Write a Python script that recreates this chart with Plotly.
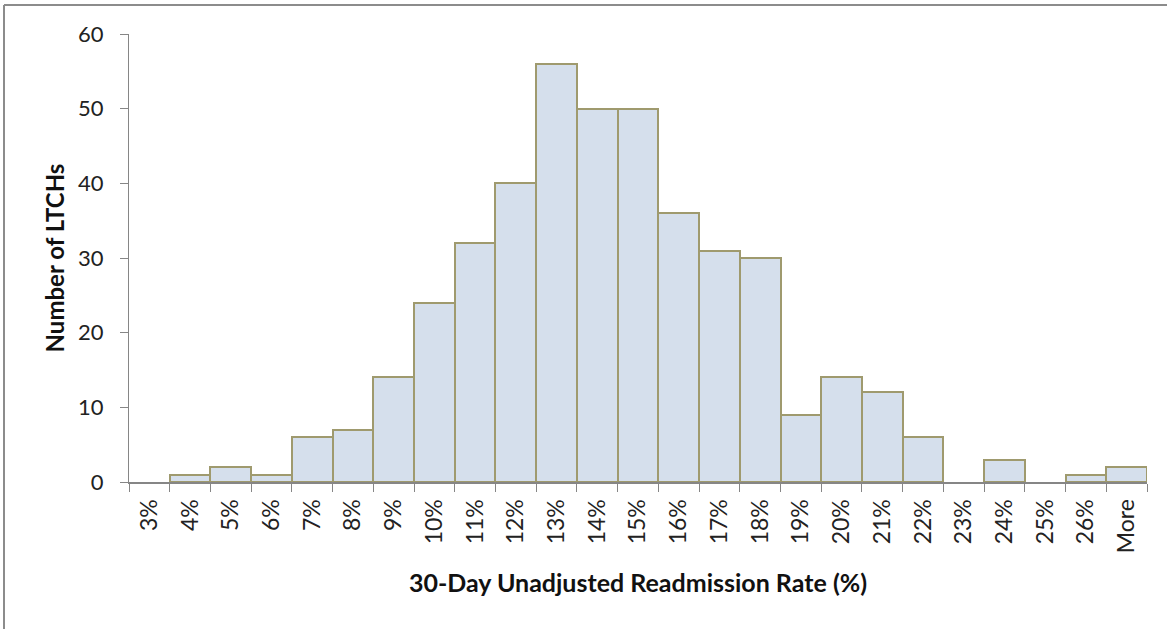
import plotly.graph_objects as go

categories = ["3%", "4%", "5%", "6%", "7%", "8%", "9%", "10%", "11%", "12%", "13%",
              "14%", "15%", "16%", "17%", "18%", "19%", "20%", "21%", "22%", "23%",
              "24%", "25%", "26%", "More"]
counts = [0, 1, 2, 1, 6, 7, 14, 24, 32, 40, 56, 50, 50, 36, 31, 30, 9, 14, 12, 6, 0,
          3, 0, 1, 2]
y_ticks = [0, 10, 20, 30, 40, 50, 60]

W, H = 1167, 629
ml, mr, mt, mb = 129, 20, 34, 147

fig = go.Figure()
fig.add_trace(go.Bar(
    x=categories, y=counts,
    marker=dict(color="#D5DFEC",
                line=dict(color="#9F9A6E", width=[0 if c == 0 else 2 for c in counts])),
    width=1.0,
))

font_family = "Lato, 'Open Sans', sans-serif"
fig.update_layout(
    width=W, height=H,
    margin=dict(l=ml, r=mr, t=mt, b=mb),
    paper_bgcolor="white", plot_bgcolor="white",
    bargap=0,
    showlegend=False,
    font=dict(family=font_family, size=22, color="#222222"),
    xaxis=dict(
        type="category",
        tickangle=-90,
        tickson="boundaries",
        ticks="outside", ticklen=8, tickcolor="#868686", tickwidth=1,
        showline=True, linecolor="#868686", linewidth=2,
        showgrid=False,
        tickfont=dict(size=23),
        ticklabelstandoff=6,
        title=dict(text="<b>30-Day Unadjusted Readmission Rate (%)</b>",
                   font=dict(size=25, color="#111111"), standoff=22),
    ),
    yaxis=dict(
        range=[0, 60],
        tickvals=y_ticks,
        ticks="outside", ticklen=8, tickcolor="#868686", tickwidth=1,
        showline=True, linecolor="#868686", linewidth=1,
        showgrid=False, zeroline=False,
        tickfont=dict(size=22),
        ticklabelstandoff=12,
        title=dict(text="<b>Number of LTCHs</b>",
                   font=dict(size=24, color="#111111"), standoff=6),
    ),
)

# outer chart border (top and left visible, the rest is cropped)
pw = W - ml - mr
ph = H - mt - mb
x_left = (4 - ml) / pw
y_top = 1 + (mt - 5) / ph
y_bot = -(H - mt - ph + 10) / ph
x_right = 1 + (mr + 10) / pw
fig.add_shape(type="line", xref="paper", yref="paper",
              x0=x_left, x1=x_right, y0=y_top, y1=y_top,
              line=dict(color="#8C8C8C", width=2))
fig.add_shape(type="line", xref="paper", yref="paper",
              x0=x_left, x1=x_left, y0=y_top, y1=y_bot,
              line=dict(color="#8C8C8C", width=2))

fig.write_html("out.html")
